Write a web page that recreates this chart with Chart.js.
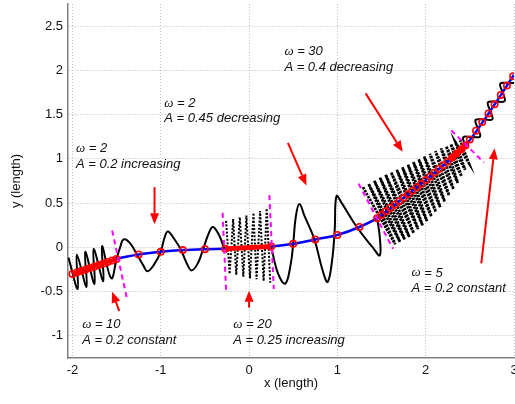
<!DOCTYPE html>
<html>
<head>
<meta charset="utf-8">
<script src="https://cdn.jsdelivr.net/npm/chart.js@4.4.1/dist/chart.umd.min.js"></script>
<style>
html, body { margin: 0; padding: 0; background: #ffffff; }
#wrap { width: 515px; height: 404px; }
</style>
</head>
<body>
<div id="wrap"><canvas id="chart_wave" width="515" height="404"></canvas></div>
<script>
// axis ticks
const x_ticks = [-2, -1, 0, 1, 2, 3];
const y_ticks = [-1, -0.5, 0, 0.5, 1, 1.5, 2, 2.5];

// blue base path
const base_x = [-2, -1.75, -1.5, -1.25, -1, -0.75, -0.5, -0.27, 0, 0.25, 0.5, 0.75, 1, 1.25, 1.45, 1.75, 2, 2.25, 2.45, 2.75, 3];
const base_y = [-0.30, -0.215, -0.13, -0.08, -0.05, -0.03, -0.02, -0.015, -0.005, 0.01, 0.04, 0.09, 0.14, 0.23, 0.33, 0.56, 0.76, 0.97, 1.15, 1.57, 1.95];

// black waves (w = 10, 2, 2, 5)
const wave_w10 = [[-2.045, -0.115], [-1.94, -0.47], [-1.95, -0.083], [-1.84, -0.447], [-1.855, -0.05], [-1.75, -0.414],
    [-1.76, -0.018], [-1.65, -0.382], [-1.665, 0.014], [-1.56, -0.35], [-1.5, -0.13]];
const wave_w2_inc = [[-1.5, -0.13], [-1.46, 0.0], [-1.42, 0.09], [-1.35, 0.05], [-1.27, -0.08], [-1.2, -0.2], [-1.15, -0.27],
    [-1.08, -0.2], [-1.0, -0.05], [-0.96, 0.1], [-0.92, 0.18], [-0.85, 0.1], [-0.77, -0.03], [-0.71, -0.17], [-0.65, -0.26],
    [-0.58, -0.18], [-0.52, -0.02], [-0.46, 0.15], [-0.41, 0.23], [-0.34, 0.14], [-0.28, -0.015]];
const wave_w2_dec = [[0.25, 0.01], [0.33, -0.3], [0.41, -0.41], [0.47, -0.2], [0.5, 0.04], [0.53, 0.35], [0.57, 0.49],
    [0.63, 0.35], [0.74, 0.09], [0.83, -0.25], [0.89, -0.39], [0.94, -0.15], [0.97, 0.2], [0.99, 0.58], [1.05, 0.5],
    [1.22, 0.23], [1.4, 0.0], [1.48, -0.09], [1.48, 0.12], [1.45, 0.33]];
const wave_w5 = [[2.45, 1.15], [2.425, 1.244], [2.52, 1.248], [2.615, 1.252], [2.59, 1.346], [2.565, 1.44], [2.66, 1.444],
    [2.755, 1.448], [2.73, 1.542], [2.705, 1.638], [2.8, 1.646], [2.895, 1.654], [2.87, 1.752], [2.845, 1.85],
    [2.94, 1.858], [3.035, 1.867], [3.01, 1.965]];

// dotted fans (w = 20, w = 30)
const fan_w20 = [[-0.26, 0.3], [-0.22, -0.3], [-0.18, 0.32], [-0.145, -0.31], [-0.105, 0.34], [-0.065, -0.33], [-0.03, 0.36],
    [0.01, -0.35], [0.05, 0.39], [0.085, -0.36], [0.125, 0.41], [0.165, -0.38], [0.2, 0.44], [0.24, -0.4]];
const fan_w30 = [[1.29, 0.68], [1.656, 0.034], [1.354, 0.716], [1.709, 0.062], [1.418, 0.752], [1.762, 0.089], [1.482, 0.788],
    [1.815, 0.117], [1.546, 0.821], [1.865, 0.16], [1.609, 0.849], [1.915, 0.205], [1.673, 0.877], [1.965, 0.249],
    [1.737, 0.904], [2.015, 0.296], [1.799, 0.934], [2.065, 0.349], [1.86, 0.965], [2.115, 0.401], [1.921, 0.996],
    [2.165, 0.454], [1.983, 1.026], [2.215, 0.519], [2.047, 1.057], [2.265, 0.588], [2.11, 1.087], [2.315, 0.658],
    [2.174, 1.118], [2.364, 0.728], [2.232, 1.143], [2.406, 0.803], [2.284, 1.166], [2.447, 0.877], [2.337, 1.188],
    [2.489, 0.952], [2.39, 1.21]];

// red markers and thick red runs
const red_marks = [[-2, -0.3], [-1.95, -0.283], [-1.9, -0.266], [-1.85, -0.249], [-1.8, -0.232], [-1.75, -0.215], [-1.7, -0.198],
    [-1.65, -0.181], [-1.6, -0.164], [-1.55, -0.147], [-1.5, -0.13], [-1.25, -0.08], [-1, -0.05], [-0.75, -0.03], [-0.5, -0.02],
    [-0.27, -0.015], [0.25, 0.01], [0.5, 0.04], [0.75, 0.09], [1, 0.14], [1.25, 0.23], [1.45, 0.33],
    [1.5, 0.368], [1.55, 0.407], [1.6, 0.445], [1.65, 0.483], [1.7, 0.522], [1.75, 0.56], [1.8, 0.6], [1.85, 0.64],
    [1.9, 0.68], [1.95, 0.72], [2, 0.76], [2.05, 0.802], [2.1, 0.844], [2.15, 0.886], [2.2, 0.928], [2.25, 0.97],
    [2.3, 1.015], [2.35, 1.06], [2.4, 1.105], [2.45, 1.15], [2.5, 1.22], [2.57, 1.318], [2.64, 1.416], [2.71, 1.514],
    [2.78, 1.616], [2.85, 1.722], [2.92, 1.828], [2.99, 1.935]];
const red_run_w10 = [[-2, -0.3], [-1.5, -0.13]];
const red_run_w20 = [[-0.27, -0.015], [0.25, 0.01]];
const red_run_w30 = [[2.27, 0.99], [2.45, 1.15]];

// magenta segment borders
const borders = [
    [[-1.55, 0.19], [-1.38, -0.59]],
    [[-0.3, 0.39], [-0.26, -0.49]],
    [[0.23, 0.59], [0.28, -0.47]],
    [[1.24, 0.72], [1.63, -0.015]],
    [[2.29, 1.32], [2.66, 0.96]],
];

// red arrows: tail -> tip
const arrow_tails = [[-1.07, 0.68], [0.44, 1.18], [1.32, 1.74], [-1.47, -0.72], [0.0, -0.68], [2.63, -0.18]];
const arrow_tips = [[-1.07, 0.26], [0.65, 0.7], [1.74, 1.08], [-1.55, -0.5], [0.0, -0.49], [2.78, 1.12]];

// annotations
const note_x = [-1.96, -0.96, 0.4, -1.89, -0.18, 1.84];
const note_w_y = [1.12, 1.63, 2.21, -0.87, -0.87, -0.29];
const note_a_y = [0.94, 1.46, 2.03, -1.05, -1.05, -0.46];
const note_w_text = [' = 2', ' = 2', ' = 30', ' = 10', ' = 20', ' = 5'];
const note_a_text = ['A = 0.2 increasing', 'A = 0.45 decreasing', 'A = 0.4 decreasing', 'A = 0.2 constant',
    'A = 0.25 increasing', 'A = 0.2 constant'];

const wave_palette = {
    blue: '#0000ff',
    black: '#000000',
    red: '#ff0000',
    magenta: '#ff00ff',
    grid: '#bcbcbc',
    axis: '#808080',
    text: '#111111',
};

function wave_pts(list) {
    return list.map(function (p) {
        return { x: p[0], y: p[1] };
    });
}

function wave_line(list, color, width, order, extra) {
    return Object.assign({
        data: wave_pts(list),
        showLine: true,
        borderColor: color,
        borderWidth: width,
        pointRadius: 0,
        fill: false,
        tension: 0,
        order: order,
    }, extra || {});
}

const wave_notes = {
    id: 'wave_notes',
    afterDatasetsDraw(chart) {
        const c = chart.ctx;
        const xs = chart.scales.x;
        const ys = chart.scales.y;
        c.save();

        // arrows
        c.strokeStyle = wave_palette.red;
        c.fillStyle = wave_palette.red;
        c.lineWidth = 2;
        arrow_tails.forEach(function (tail, idx) {
            const tip = arrow_tips[idx];
            const x0 = xs.getPixelForValue(tail[0]);
            const y0 = ys.getPixelForValue(tail[1]);
            const x1 = xs.getPixelForValue(tip[0]);
            const y1 = ys.getPixelForValue(tip[1]);
            const ang = Math.atan2(y1 - y0, x1 - x0);
            const head = 11;
            const half = 4.5;
            const bx = x1 - head * Math.cos(ang);
            const by = y1 - head * Math.sin(ang);
            c.beginPath();
            c.moveTo(x0, y0);
            c.lineTo(bx, by);
            c.stroke();
            c.beginPath();
            c.moveTo(x1, y1);
            c.lineTo(bx + half * Math.sin(ang), by - half * Math.cos(ang));
            c.lineTo(bx - half * Math.sin(ang), by + half * Math.cos(ang));
            c.closePath();
            c.fill();
        });

        // text notes
        c.fillStyle = wave_palette.text;
        c.textBaseline = 'middle';
        c.textAlign = 'left';
        note_x.forEach(function (nx, idx) {
            const px = xs.getPixelForValue(nx);
            const py_w = ys.getPixelForValue(note_w_y[idx]);
            const py_a = ys.getPixelForValue(note_a_y[idx]);
            c.font = 'italic 13px "Liberation Serif", "DejaVu Serif", serif';
            c.fillText('\u03c9', px, py_w);
            const w_width = c.measureText('\u03c9').width;
            c.font = 'italic 13px "Liberation Sans", Arial, sans-serif';
            c.fillText(note_w_text[idx], px + w_width, py_w);
            c.fillText(note_a_text[idx], px, py_a);
        });

        c.restore();
    },
};

const wave_datasets = [
    wave_line(borders[0], wave_palette.magenta, 2, 1, { borderDash: [5, 4] }),
    wave_line(borders[1], wave_palette.magenta, 2, 1, { borderDash: [5, 4] }),
    wave_line(borders[2], wave_palette.magenta, 2, 1, { borderDash: [5, 4] }),
    wave_line(borders[3], wave_palette.magenta, 2, 1, { borderDash: [5, 4] }),
    wave_line(borders[4], wave_palette.magenta, 2, 1, { borderDash: [5, 4] }),
    {
        data: wave_pts(red_marks),
        showLine: false,
        pointRadius: 3.2,
        pointBorderWidth: 1.6,
        pointBorderColor: wave_palette.red,
        pointBackgroundColor: 'rgba(0,0,0,0)',
        order: 2,
    },
    wave_line(red_run_w10, wave_palette.red, 4, 3),
    wave_line(red_run_w20, wave_palette.red, 5, 3),
    wave_line(red_run_w30, wave_palette.red, 5, 3),
    wave_line(base_x.map(function (v, i) { return [v, base_y[i]]; }), wave_palette.blue, 2.5, 4,
        { cubicInterpolationMode: 'monotone' }),
    wave_line(wave_w10, wave_palette.black, 2, 5, { tension: 0.4 }),
    wave_line(wave_w2_inc, wave_palette.black, 2, 5, { tension: 0.4 }),
    wave_line(wave_w2_dec, wave_palette.black, 2, 5, { tension: 0.4 }),
    wave_line(wave_w5, wave_palette.black, 2, 5, { tension: 0.4 }),
    wave_line(fan_w20, wave_palette.black, 2, 6, { borderDash: [2, 1.6] }),
    wave_line(fan_w30, wave_palette.black, 2.7, 6, { borderDash: [2.4, 1] }),
];

function wave_axis(ticks_list, min, max, title, is_x) {
    return {
        type: 'linear',
        min: min,
        max: max,
        afterBuildTicks: function (scale) {
            scale.ticks = ticks_list.map(function (v) { return { value: v }; });
        },
        afterFit: function (scale) {
            if (is_x) {
                scale.height = 46;
            } else {
                scale.width = 68;
            }
            scale.paddingLeft = 0;
            scale.paddingRight = 0;
            scale.paddingTop = 0;
            scale.paddingBottom = 0;
        },
        grid: {
            color: wave_palette.grid,
            lineWidth: 1,
            drawTicks: false,
        },
        border: { display: true, color: wave_palette.axis, width: 1.5, dash: [1, 2] },
        ticks: {
            color: wave_palette.text,
            padding: 5,
            font: { family: '"Liberation Sans", Arial, sans-serif', size: 13 },
            callback: function (v) { return String(v); },
        },
        title: {
            display: true,
            text: title,
            color: wave_palette.text,
            font: { family: '"Liberation Sans", Arial, sans-serif', size: 13 },
            padding: is_x ? { top: 0, bottom: 13 } : { top: 9, bottom: 0 },
        },
    };
}

new Chart(document.getElementById('chart_wave').getContext('2d'), {
    type: 'scatter',
    data: { datasets: wave_datasets },
    options: {
        responsive: false,
        animation: false,
        layout: { autoPadding: false, padding: { top: 4, right: 1, left: 0, bottom: 0 } },
        plugins: {
            legend: { display: false },
            tooltip: { enabled: false },
        },
        scales: {
            x: wave_axis(x_ticks, -2.05, 3, 'x (length)', true),
            y: wave_axis(y_ticks, -1.25, 2.75, 'y (length)', false),
        },
    },
    plugins: [wave_notes],
});
</script>
</body>
</html>
